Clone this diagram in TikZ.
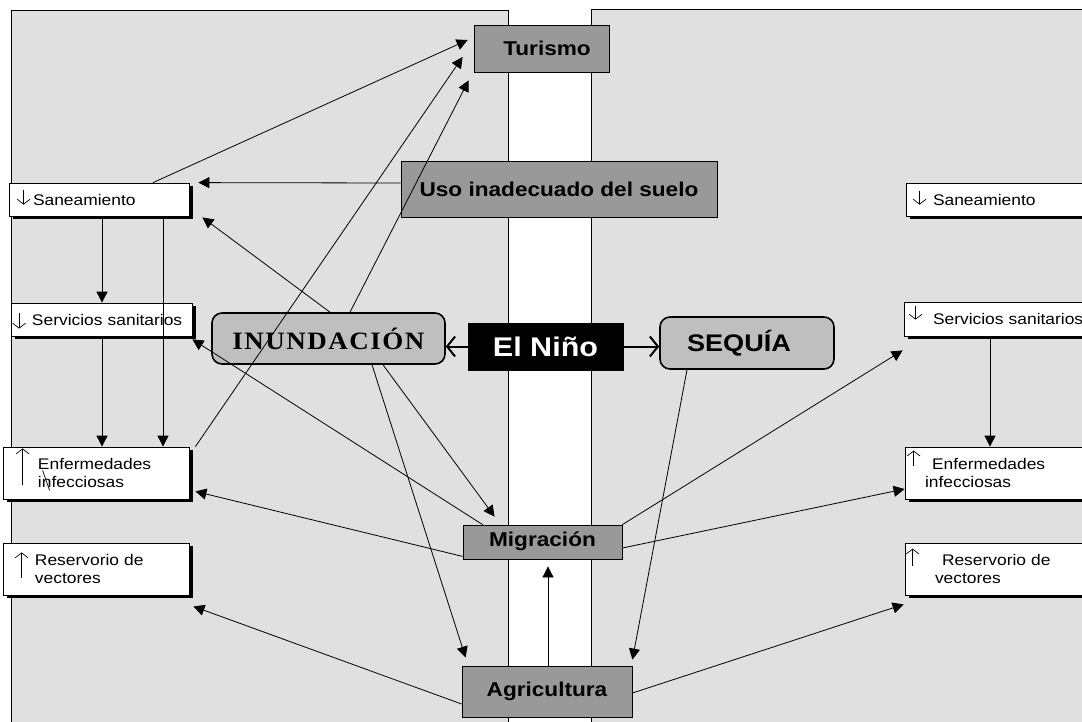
\documentclass[tikz,border=0pt]{standalone}
\usepackage{fontspec}
\setmainfont[FakeStretch=1.13]{Liberation Sans}
\newfontfamily\inundfont[FakeStretch=1.08,LetterSpace=6]{Liberation Serif}
\usetikzlibrary{arrows.meta,calc,shadows}

\definecolor{panelgray}{gray}{0.88}
\definecolor{boxgray}{gray}{0.6}
\definecolor{hazardgray}{gray}{0.75}

\begin{document}
\begin{tikzpicture}[x=1pt,y=-1pt,
  panel/.style={draw=black, fill=panelgray, line width=0.8pt},
  effect/.style={draw=black, fill=white, line width=0.8pt, inner xsep=5pt, inner ysep=0pt,
    text width=#1, align=left, minimum height=33pt, font=\fontsize{15.4}{18}\selectfont,
    drop shadow={shadow xshift=3.5pt, shadow yshift=-3pt, fill=black, opacity=1}},
  cause/.style={draw=black, fill=boxgray, line width=0.8pt, inner sep=0pt,
    font=\bfseries\fontsize{20}{24}\selectfont},
  hazard/.style={draw=black, fill=hazardgray, line width=1.6pt, rounded corners=10pt, inner sep=0pt},
  link/.style={line width=0.8pt, -{Triangle[length=11pt,width=11pt]}},
  nlink/.style={line width=2pt, -{Straight Barb[length=8pt,width=20pt]}},
  glyph/.style={line width=0.7pt, -{Straight Barb[length=5pt,width=13pt]}}]

\useasboundingbox (0,0) rectangle (1082,721);
\clip (0,0) rectangle (1082,721);
\draw[panel] (11,10) rectangle (508,740);
\draw[panel] (591,9) rectangle (1100,740);

\node[cause, minimum width=135pt, minimum height=47pt] (turismo) at (541.5,48.5) {\hspace*{11pt}Turismo};
\node[cause, minimum width=316pt, minimum height=56pt] (uso) at (559,189) {\raisebox{-4pt}{Uso inadecuado del suelo}};
\node[draw=black, fill=black, text=white, minimum width=155pt, minimum height=47pt, inner sep=0pt,
  font=\bfseries\fontsize{27}{30}\selectfont] (nino) at (545.5,346.5) {El Niño};
\node[hazard, minimum width=233pt, minimum height=51pt, font=\inundfont\bfseries\fontsize{25}{28}\selectfont] (inund) at (328.5,338.5) {INUNDACIÓN};
\node[hazard, minimum width=174pt, minimum height=52pt, font=\bfseries\fontsize{24}{28}\selectfont] (sequia) at (747,343) {SEQUÍA\hspace*{16pt}};
\node[cause, minimum width=159pt, minimum height=34pt] (migr) at (542.5,542) {\raisebox{6pt}{Migración}};
\node[cause, minimum width=170pt, minimum height=51pt] (agri) at (547,691.5) {Agricultura};

\node[effect=170pt] (sanL) at (99,199.5) {\hspace*{19pt}Saneamiento};
\node[effect=171pt] (servL) at (101.5,319.5) {\hspace*{16pt}Servicios sanitarios};
\node[effect=176pt, minimum height=52pt] (enfL) at (96,473) {\hspace*{30pt}Enfermedades\\\hspace*{30pt}infecciosas};
\node[effect=176pt, minimum height=52pt] (resL) at (96,569) {\hspace*{27pt}Reservorio de\\\hspace*{27pt}vectores};
\node[effect=184pt] (sanR) at (1003,199.5) {\hspace*{22pt}Saneamiento};
\node[effect=186pt, minimum height=34pt] (servR) at (1002,319) {\hspace*{24pt}Servicios sanitarios};
\node[effect=185pt, minimum height=52pt] (enfR) at (1002.5,473) {\hspace*{22pt}Enfermedades\\\hspace*{15pt}infecciosas};
\node[effect=185pt, minimum height=52pt] (resR) at (1002.5,569) {\hspace*{32pt}Reservorio de\\\hspace*{25pt}vectores};

\draw[glyph] ($(sanL.north west)+(15,7)$) -- ($(sanL.north west)+(15,22)$);
\draw[glyph] ($(servL.north west)+(8.5,10)$) -- ($(servL.north west)+(8.5,26)$);
\draw[glyph] ($(enfL.south west)+(20,-14)$) -- ($(enfL.south west)+(20,-51)$);
\draw[line width=0.7pt] ($(enfL.south west)+(40,-29)$) -- ($(enfL.south west)+(47,-9)$);
\draw[glyph] ($(resL.south west)+(19,-17)$) -- ($(resL.south west)+(19,-43)$);
\draw[glyph] ($(sanR.north west)+(14,8)$) -- ($(sanR.north west)+(14,22)$);
\draw[glyph] ($(servR.north west)+(12,4)$) -- ($(servR.north west)+(12,18)$);
\draw[glyph] ($(enfR.north west)+(9,19)$) -- ($(enfR.north west)+(9,4)$);
\draw[glyph] ($(resR.north west)+(8,23)$) -- ($(resR.north west)+(8,6)$);

\draw[link] ($(sanL.north)+(54,0)$) -- ($(turismo.west)+(-6,-8.5)$);
\draw[link] ($(enfL.north east)+(6,0)$) -- ($(turismo.west)+(-11,8.5)$);
\draw[link] ($(inund.north)+(21.5,0)$) -- ($(turismo.south west)+(-5,8)$);
\draw[link] ($(uso.west)+(0,-6)$) -- ($(sanL.north east)+(9,0)$);
\draw[link] ($(inund.north)+(1.5,0)$) -- ($(sanL.south east)+(13,1)$);
\draw[link] ($(sanL.south)+(3,0)$) -- ($(servL.north)+(0.5,0)$);
\draw[link] ($(sanL.south)+(64,0)$) -- ($(enfL.north)+(67,0)$);
\draw[link] ($(servL.south)+(0.5,0)$) -- ($(enfL.north)+(6,0)$);
\draw[link] ($(migr.north west)+(20,0)$) -- ($(servL.south east)+(0,3)$);
\draw[link] ($(migr.south west)+(0,-3)$) -- ($(enfL.south east)+(6,-8)$);
\draw[link] ($(inund.south)+(54.5,0)$) -- ($(migr.north west)+(32,-8)$);
\draw[link] ($(inund.south)+(43.5,0)$) -- ($(agri.north west)+(4,-8)$);
\draw[link] ($(agri.west)+(0,12.5)$) -- ($(resL.south east)+(4,11)$);
\draw[link] ($(agri.north)+(1,0)$) -- ($(migr.south)+(5.5,7)$);
\draw[nlink] (nino.west) -- (nino.west -| inund.east);
\draw[nlink] (nino.east) -- (nino.east -| sequia.west);
\draw[link] ($(sequia.south)+(-60,0)$) -- ($(agri.north east)+(0,-6)$);
\draw[link] (migr.north east) -- ($(servR.south west)+(-1,14)$);
\draw[link] ($(migr.east)+(0,6)$) -- ($(enfR.west)+(0,16)$);
\draw[link] ($(agri.east)+(0,1.5)$) -- ($(resR.south west)+(-1,9)$);
\draw[link] ($(servR.south)+(-12,2)$) -- ($(enfR.north)+(-12.5,0)$);
\end{tikzpicture}
\end{document}
